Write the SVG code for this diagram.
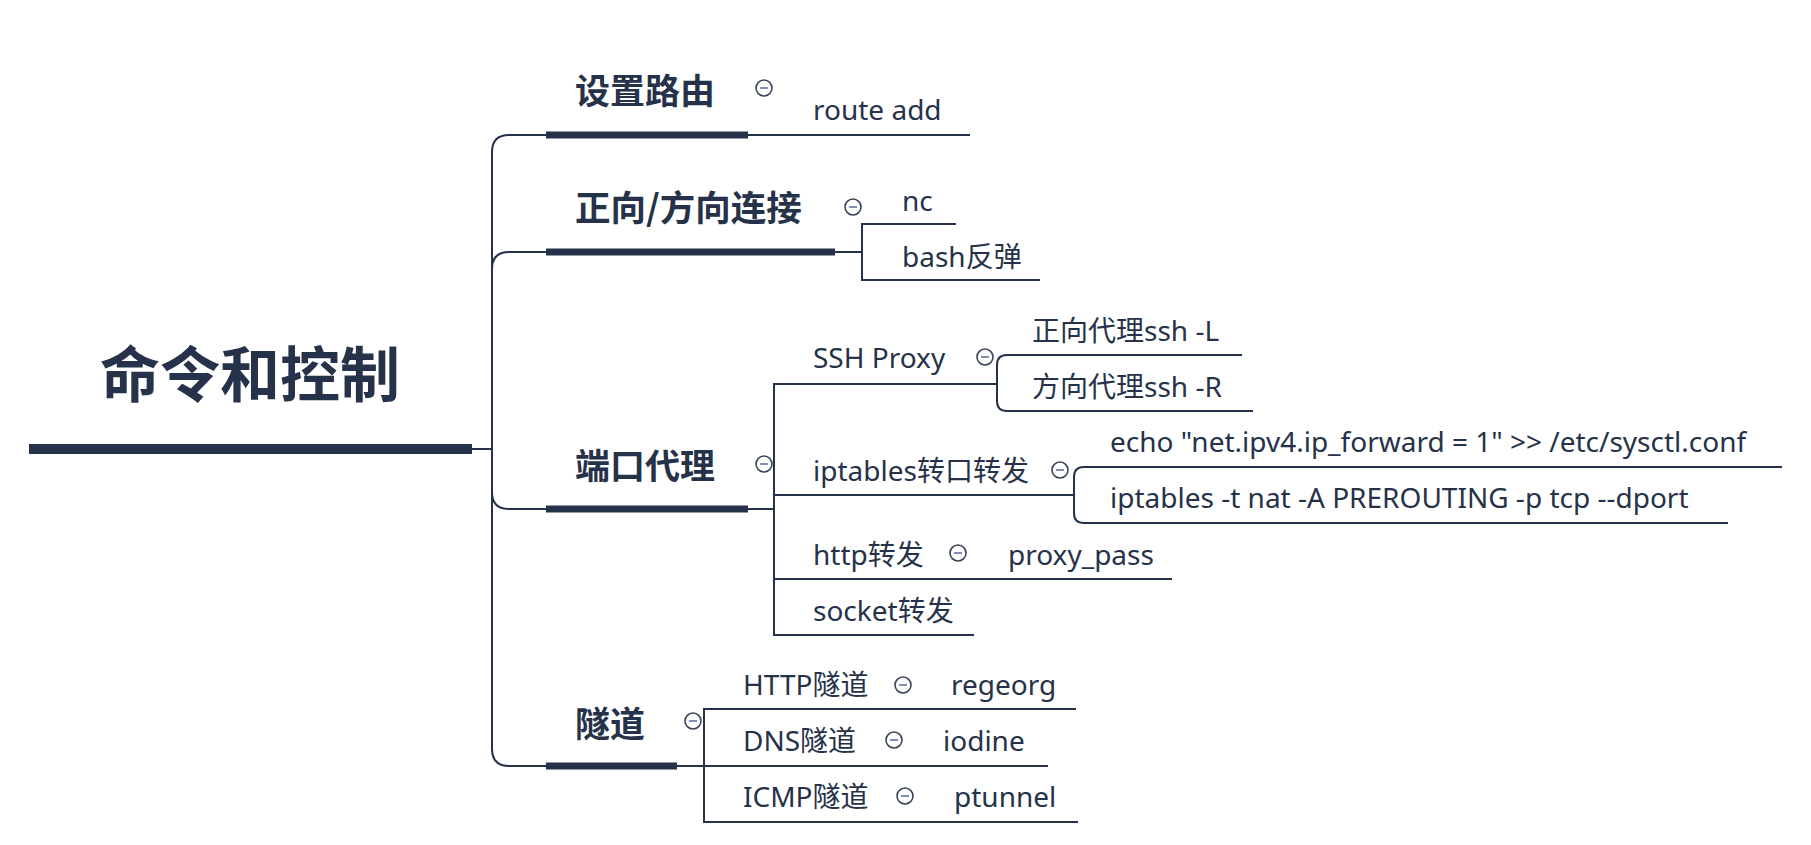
<svg xmlns="http://www.w3.org/2000/svg" width="1811" height="845" viewBox="0 0 1811 845">
<style>
.ln{fill:none;stroke:#263249;stroke-width:2}
.bar{stroke:#263249;stroke-linecap:butt}
.h1{font-family:"Noto Sans CJK SC","Noto Sans",sans-serif;font-weight:700;fill:#263249}
.t{font-family:"Noto Sans","Noto Sans CJK SC",sans-serif;font-size:28px;fill:#263249}
.cb circle{fill:#fff;stroke:#3b4457;stroke-width:1.6}
.cb line{stroke:#8090b8;stroke-width:2}
</style>
<defs>
<g id="col" class="cb"><circle r="8" cx="0" cy="0"/><line x1="-4" y1="0" x2="4" y2="0"/></g>
</defs>
<rect width="1811" height="845" fill="#fff"/>
<g id="connectors">
<line class="ln" x1="472" y1="449" x2="492" y2="449"/>
<path class="ln" d="M492 449 V152 Q492 135 509 135 H546"/>
<path class="ln" d="M492 449 V269 Q492 252 509 252 H546"/>
<path class="ln" d="M492 449 V492 Q492 509 509 509 H546"/>
<path class="ln" d="M492 449 V749 Q492 766 509 766 H546"/>
<line class="ln" x1="748" y1="135" x2="970" y2="135"/>
<path class="ln" d="M835 252 H862 M956 224 H862 V280 H1040"/>
<path class="ln" d="M748 509 H774 M997 384 H774 V635 H974 M774 495 H1074 M774 579 H1172"/>
<path class="ln" d="M997 384 V365 Q997 355 1007 355 H1242 M997 384 V401 Q997 411 1007 411 H1253"/>
<path class="ln" d="M1074 495 V477 Q1074 467 1084 467 H1782 M1074 495 V513 Q1074 523 1084 523 H1728"/>
<path class="ln" d="M677 766 H1048 M1076 709 H704 V822 H1078"/>
</g>
<g id="root">
<line class="bar" x1="29" y1="449" x2="472" y2="449" stroke-width="10"/>
<text class="h1" x="250" y="397" font-size="60" text-anchor="middle">命令和控制</text>
</g>
<g id="n-route">
<line class="bar" x1="546" y1="135" x2="748" y2="135" stroke-width="7"/>
<text class="h1" x="575" y="104" font-size="35">设置路由</text>
<use href="#col" x="764" y="88"/>
</g>
<g id="n-route-add"><text class="t" x="813" y="120">route add</text></g>
<g id="n-conn">
<line class="bar" x1="546" y1="252" x2="835" y2="252" stroke-width="7"/>
<text class="h1" x="575" y="221" font-size="35.5">正向/方向连接</text>
<use href="#col" x="853" y="207"/>
</g>
<g id="n-nc"><text class="t" x="902" y="211">nc</text></g>
<g id="n-bash"><text class="t" x="902" y="267">bash反弹</text></g>
<g id="n-port">
<line class="bar" x1="546" y1="509" x2="748" y2="509" stroke-width="7"/>
<text class="h1" x="575" y="479" font-size="35">端口代理</text>
<use href="#col" x="764" y="464"/>
</g>
<g id="n-ssh"><text class="t" x="813" y="368">SSH Proxy</text><use href="#col" x="985" y="357"/></g>
<g id="n-sshL"><text class="t" x="1032" y="341">正向代理ssh -L</text></g>
<g id="n-sshR"><text class="t" x="1032" y="397">方向代理ssh -R</text></g>
<g id="n-ipt"><text class="t" x="813" y="481">iptables转口转发</text><use href="#col" x="1060" y="470"/></g>
<g id="n-echo"><text class="t" x="1110" y="452">echo "net.ipv4.ip_forward = 1" &gt;&gt; /etc/sysctl.conf</text></g>
<g id="n-iptcmd"><text class="t" x="1110" y="508">iptables -t nat -A PREROUTING -p tcp --dport</text></g>
<g id="n-http"><text class="t" x="813" y="565">http转发</text><use href="#col" x="958" y="553"/></g>
<g id="n-proxypass"><text class="t" x="1008" y="565">proxy_pass</text></g>
<g id="n-socket"><text class="t" x="813" y="621">socket转发</text></g>
<g id="n-tunnel">
<line class="bar" x1="546" y1="766" x2="677" y2="766" stroke-width="7"/>
<text class="h1" x="575" y="737" font-size="35">隧道</text>
<use href="#col" x="693" y="721"/>
</g>
<g id="n-httpt"><text class="t" x="743" y="695">HTTP隧道</text><use href="#col" x="903" y="685"/></g>
<g id="n-regeorg"><text class="t" x="951" y="695">regeorg</text></g>
<g id="n-dns"><text class="t" x="743" y="751">DNS隧道</text><use href="#col" x="894" y="740"/></g>
<g id="n-iodine"><text class="t" x="943" y="751">iodine</text></g>
<g id="n-icmp"><text class="t" x="743" y="807">ICMP隧道</text><use href="#col" x="905" y="796"/></g>
<g id="n-ptunnel"><text class="t" x="954" y="807">ptunnel</text></g>
</svg>
